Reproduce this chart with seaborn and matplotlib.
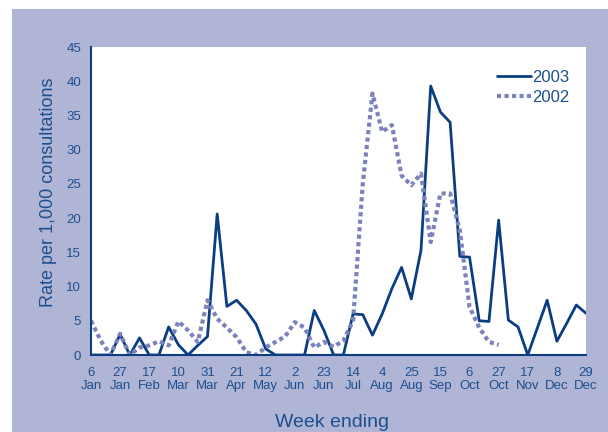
import numpy as np
import pandas as pd
import matplotlib
matplotlib.use("Agg")
import matplotlib.pyplot as plt
import seaborn as sns
from matplotlib.patches import Rectangle

# week-ending labels (every third week is labelled)
tick_labels = ["6\nJan", "27\nJan", "17\nFeb", "10\nMar", "31\nMar", "21\nApr",
               "12\nMay", "2\nJun", "23\nJun", "14\nJul", "4\nAug", "25\nAug",
               "15\nSep", "6\nOct", "27\nOct", "17\nNov", "8\nDec", "29\nDec"]

# rate per 1,000 consultations, one value per week
rate_2003 = [0, 0, 0, 3.0, 0, 2.5, 0, 0, 4.1, 1.5, 0, 1.4, 2.7, 20.6, 7.1, 8.0,
             6.5, 4.5, 0.9, 0, 0, 0, 0, 6.5, 3.6, 0, 0, 6.0, 5.9, 2.9, 6.0, 9.7,
             12.8, 8.2, 15.3, 39.3, 35.5, 34.0, 14.4, 14.3, 5.0, 4.9, 19.7, 5.1,
             4.1, 0, 4.0, 8.0, 2.0, 4.6, 7.3, 6.1]
rate_2002 = [5.0, 2.1, 0, 3.1, 0, 1.1, 1.4, 2.0, 1.4, 4.9, 3.6, 1.9, 8.0, 5.3,
             4.0, 2.6, 0.4, 0, 1.1, 1.9, 2.7, 4.8, 4.0, 1.1, 1.9, 1.2, 2.1, 5.0,
             25.0, 38.2, 32.6, 33.6, 26.2, 24.8, 26.5, 16.5, 23.6, 23.6, 18.2,
             7.0, 4.0, 1.9, 1.5]

bg = "#b0b5d5"
navy = "#0a3d82"
lilac = "#7c82bb"
txt = "#1c4f8f"

sns.set_style("white")
plt.rcParams["font.family"] = ["Liberation Sans", "DejaVu Sans"]

df03 = pd.DataFrame({"week": np.arange(len(rate_2003)), "rate": rate_2003})
df02 = pd.DataFrame({"week": np.arange(len(rate_2002)), "rate": rate_2002})

fig = plt.figure(figsize=(6.08, 4.32), dpi=100, facecolor="white")
fig.patches.append(Rectangle((12 / 608, 0), 1, 1 - 9 / 432, transform=fig.transFigure,
                             facecolor=bg, edgecolor="none", zorder=-1))
ax = fig.add_axes([91 / 608, 1 - 355 / 432, (586 - 91) / 608, (355 - 47) / 432])
ax.set_facecolor("white")

sns.lineplot(data=df03, x="week", y="rate", ax=ax, color=navy, linewidth=2,
             label="2003")
sns.lineplot(data=df02, x="week", y="rate", ax=ax, color=lilac, linewidth=3,
             dashes=False, label="2002")
ax.lines[1].set_dashes((1, 0.8))

ax.set_xlim(0, 51)
ax.set_ylim(0, 45)
ax.set_yticks(range(0, 46, 5))
ax.set_xticks(range(0, 52, 3))
ax.set_xticklabels(tick_labels, linespacing=1.05)
ax.set_xticks(range(0, 52), minor=True)
ax.tick_params(axis="both", which="both", direction="out", colors=navy,
               labelcolor=txt, labelsize=9.5, length=4, width=1.2)
ax.tick_params(axis="x", which="major", pad=5)
ax.tick_params(axis="y", which="major", pad=3)

for side in ["top", "right"]:
    ax.spines[side].set_visible(False)
for side in ["left", "bottom"]:
    ax.spines[side].set_color(navy)
    ax.spines[side].set_linewidth(1.5)

ax.set_xlabel("Week ending", fontsize=14, color=txt)
ax.xaxis.set_label_coords(0.487, -0.2338)
ax.xaxis.label.set_va("baseline")
ax.set_ylabel("Rate per 1,000 consultations", fontsize=13, color=txt)
ax.yaxis.set_label_coords(-0.069, 0.53)

leg = ax.legend(loc="upper right", frameon=False, fontsize=12, handlelength=2.0,
                handletextpad=0.1, labelspacing=0.3, bbox_to_anchor=(0.997, 0.975))
for t in leg.get_texts():
    t.set_color(txt)

fig.savefig("out.png", dpi=100, facecolor=fig.get_facecolor())
